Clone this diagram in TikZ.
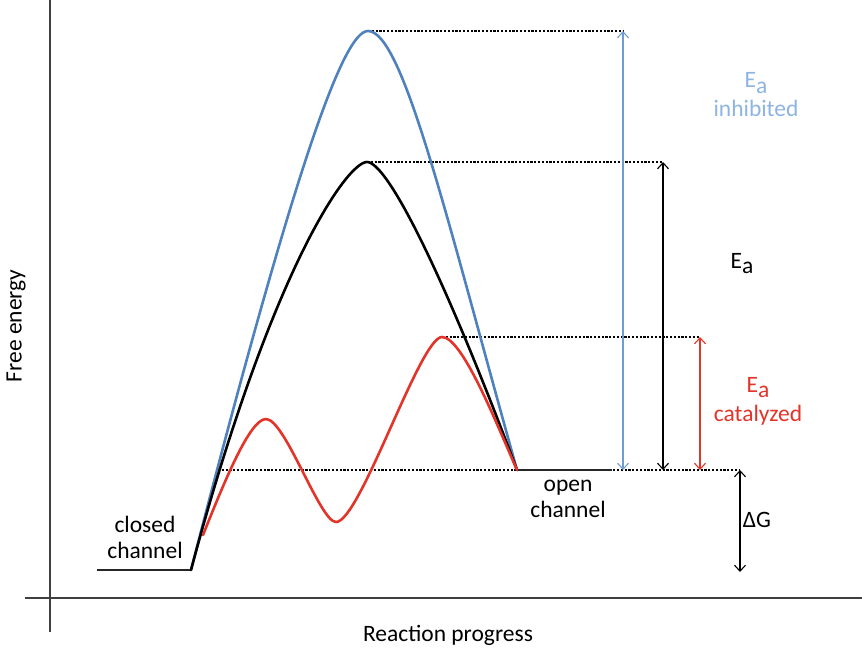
\documentclass[tikz,border=0pt]{standalone}
\usepackage{fontspec}
\setmainfont{Carlito}
\usetikzlibrary{arrows.meta}
\definecolor{cblue}{HTML}{4F81BD}
\definecolor{lblue}{HTML}{8DB4E2}
\definecolor{ablue}{HTML}{6F9DD3}
\definecolor{cred}{HTML}{E3342A}
\definecolor{axisgray}{HTML}{404040}
\begin{document}
\begin{tikzpicture}[x=1pt,y=-1pt,
  curve/.style={line width=2.6pt, line join=round, line cap=round},
  guide/.style={line width=1.1pt, dash pattern=on 2.2pt off 1.6pt},
  meas/.style={line width=1.1pt, {Straight Barb[length=6pt,width=11pt]}-{Straight Barb[length=6pt,width=11pt]}},
  lbl/.style={font=\fontsize{23.5}{26}\selectfont, align=center, inner sep=0pt},
  levelline/.style={line width=2.6pt, draw=black!85},
  axisline/.style={line width=1.6pt, draw=axisgray}]
\useasboundingbox (0,0) rectangle (862,649);
% axes
\coordinate (xa0) at (25,598);
\coordinate (xa1) at (862,598);
\coordinate (ya0) at (50,0);
\coordinate (ya1) at (50,632);
\draw[axisline] (xa0) -- (xa1);
\draw[axisline] (ya0) -- (ya1);
% key points
\coordinate (cs) at (97,570);
\coordinate (ts) at (191,570);
\coordinate (te) at (517,470);
\coordinate (oe) at (612,470);
\coordinate (pb) at (368,31);
\coordinate (pk) at (367,162);
\coordinate (pr) at (442,337);
\coordinate (r1) at (266,419);
\coordinate (rv) at (336,522);
\coordinate (rs) at (203,535);
\coordinate (g0) at (218,470);
% guides
\draw[guide] (g0) -- (740,470);
\draw[guide] (pr) -- (700,337);
\draw[guide] (pk) -- (663,162);
\draw[guide] (pb) -- (623,31);
% levels
\draw[levelline] (cs) -- (ts);
\draw[levelline] (te) -- (oe);
% curves
\draw[curve, cblue] (ts) .. controls (294,170) and (343,31) .. (pb)
  .. controls (403,31) and (447,220) .. (te);
\draw[curve, black] (ts) .. controls (271,270) and (347,162) .. (pk)
  .. controls (387,162) and (442,270) .. (te);
\draw[curve, cred] (rs) .. controls (225,480) and (250,419) .. (r1)
  .. controls (285,419) and (320,522) .. (rv)
  .. controls (360,522) and (420,337) .. (pr)
  .. controls (462,337) and (495,420) .. (te);
% measurement arrows
\draw[meas, ablue] (623,470) -- (623,31);
\draw[meas, black] (663,162) -- (663,470);
\draw[meas, cred] (700,337) -- (700,470);
\draw[meas, black] (740,470) -- (740,572);
% labels
\node[lbl, text=lblue] (linh) at (756,95) {E\raisebox{-0.45ex}{a}\\[3pt]inhibited};
\node[lbl] (lea) at (742,264) {E\raisebox{-0.45ex}{a}};
\node[lbl, text=cred] (lcat) at (758,401) {E\raisebox{-0.45ex}{a}\\[3pt]catalyzed};
\node[lbl] (ldg) at (757,520) {ΔG};
\node[lbl] (lopen) at (568,499) {open\\channel};
\node[lbl] (lclosed) at (145,537) {closed\\channel};
\node[lbl, rotate=90] (lfe) at (16,326) {Free energy};
\node[lbl] (lrp) at (448,635) {Reaction progress};
\end{tikzpicture}
\end{document}
